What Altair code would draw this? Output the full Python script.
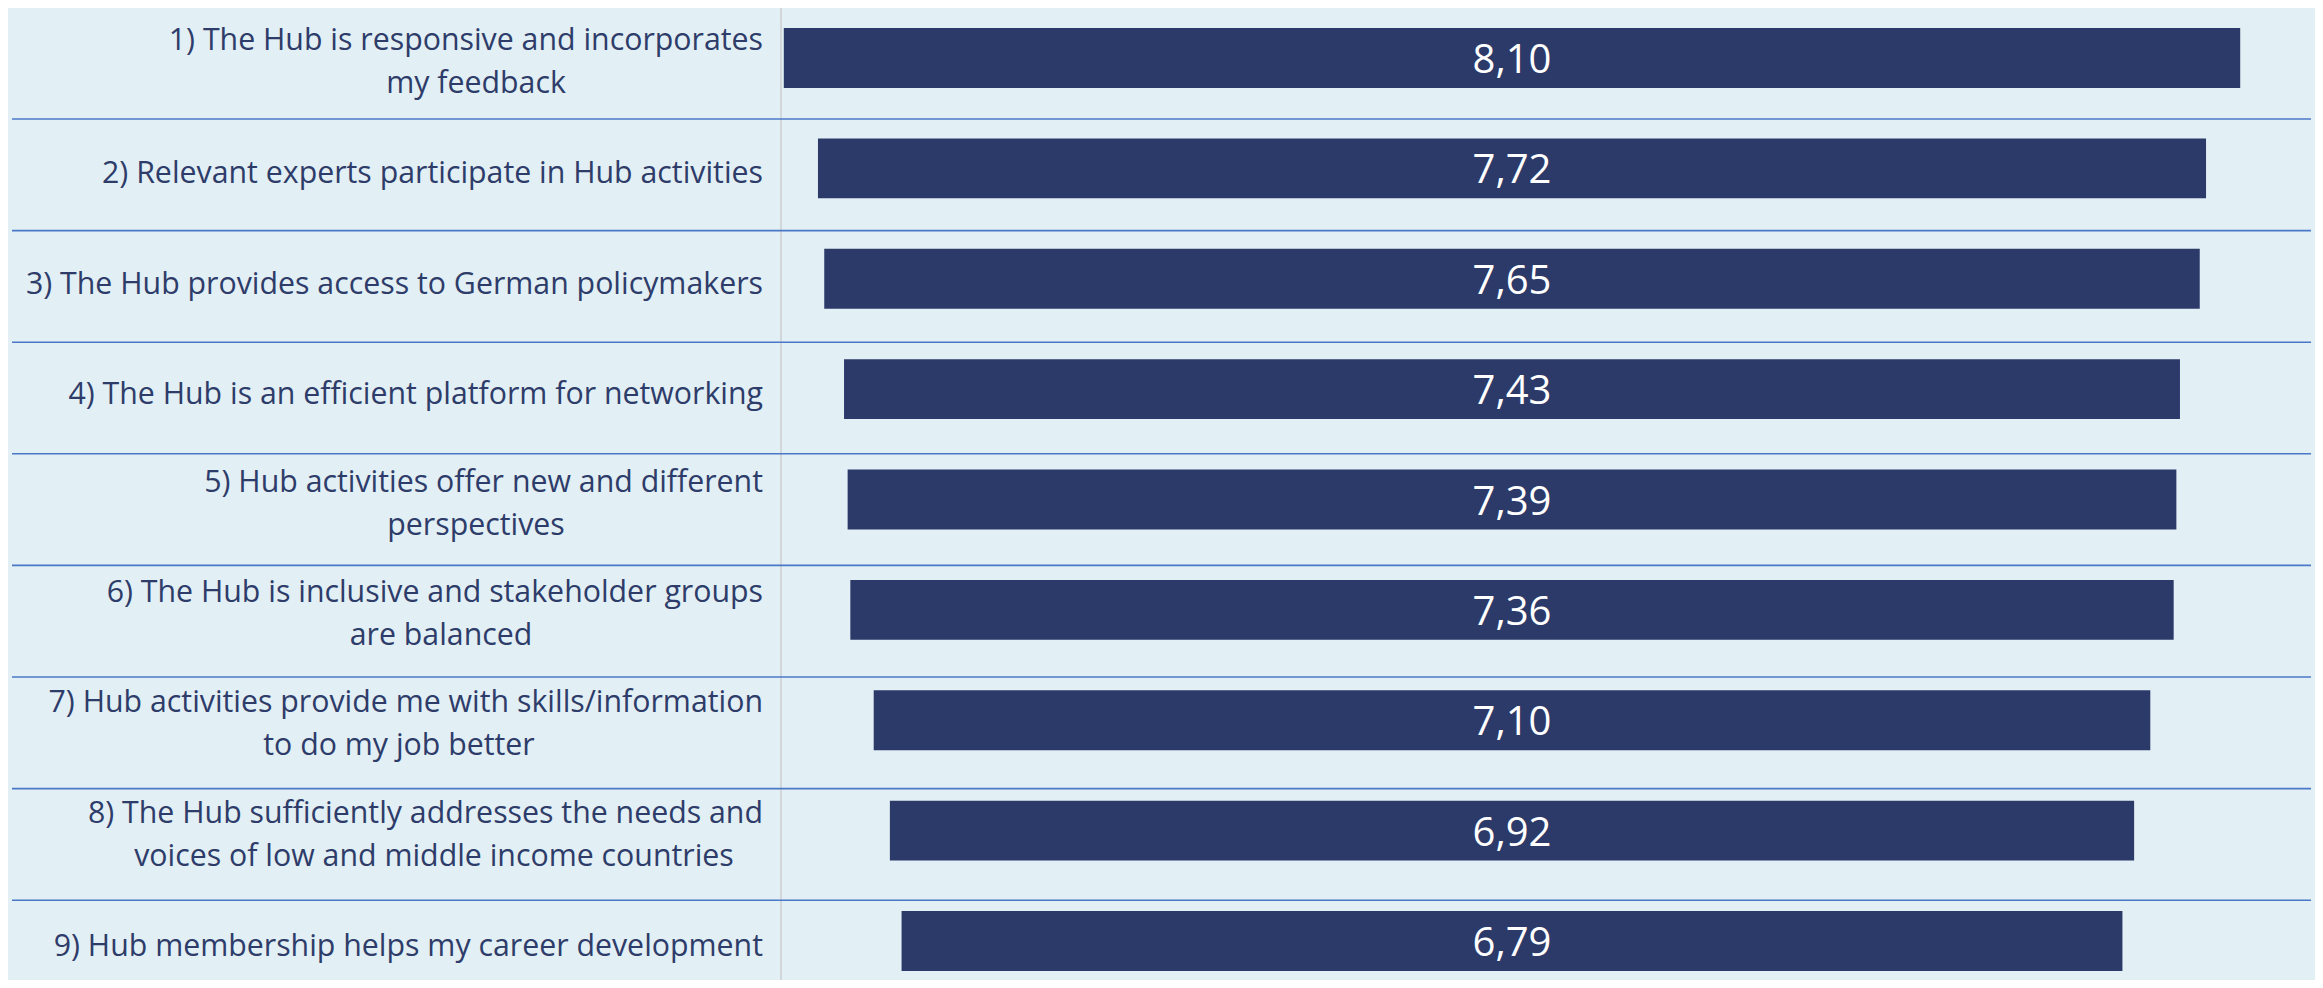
import altair as alt
import pandas as pd

# ---- data ----
label_line1 = [
    "1) The Hub is responsive and incorporates",
    "2) Relevant experts participate in Hub activities",
    "3) The Hub provides access to German policymakers",
    "4) The Hub is an efficient platform for networking",
    "5) Hub activities offer new and different",
    "6) The Hub is inclusive and stakeholder groups",
    "7) Hub activities provide me with skills/information",
    "8) The Hub sufficiently addresses the needs and",
    "9) Hub membership helps my career development",
]
label_line2 = [
    "my feedback",
    "",
    "",
    "",
    "perspectives",
    "are balanced",
    "to do my job better",
    "voices of low and middle income countries",
    "",
]
scores = [8.10, 7.72, 7.65, 7.43, 7.39, 7.36, 7.10, 6.92, 6.79]

# ---- style ----
NAVY = "#2C3A6A"
LABEL = "#2E3C6A"
BG = "#E2EFF4"
SEP = "#4A78C8"
GRAY = "#D2D7DA"
FONT = "Open Sans"
FS = 30.3
CW = 14.0  # approx. average character width for centering second lines
LX = -19   # right edge of the category labels, relative to the plot's left edge

W, H = 1460, 943
XD = 4.06

df = pd.DataFrame({"cat": label_line1, "line2": label_line2, "value": scores})

base = alt.Chart(df).transform_window(idx="row_number()")

xscale = alt.Scale(domain=[-XD, XD], nice=False, zero=False)
ydef = alt.Y(
    "cat:N",
    sort=label_line1,
    axis=None,
    scale=alt.Scale(type="band", domain=label_line1, paddingInner=0.4565, paddingOuter=0),
)

bars = (
    base.transform_calculate(lo="-datum.value/2", hi="datum.value/2")
    .mark_bar(color=NAVY, cornerRadius=0)
    .encode(x=alt.X("lo:Q", scale=xscale, axis=None), x2="hi:Q", y=ydef)
)

vals = (
    base.transform_calculate(
        mid="0*datum.value",
        txt="replace(format(datum.value, '.2f'), '.', ',')",
    )
    .mark_text(color="white", font=FONT, fontSize=40, align="center", baseline="middle", dy=3)
    .encode(x=alt.X("mid:Q", scale=xscale, axis=None), y=ydef, text="txt:N")
)

seps = (
    base.transform_filter("datum.idx < 9")
    .mark_rule(color=SEP, strokeWidth=1.6)
    .encode(
        y=alt.Y(
            "idx:Q",
            scale=alt.Scale(domain=[0.1846, 8.6345], reverse=True, nice=False, zero=False),
            axis=None,
        ),
        x=alt.value(-770),
        x2=alt.value(W + 69),
    )
)

vline = (
    base.transform_filter("datum.idx == 1")
    .mark_rule(color=GRAY, strokeWidth=2)
    .encode(x=alt.value(-1), y=alt.value(-25), y2=alt.value(H + 9))
)

lab_single = (
    base.transform_filter("datum.line2 == ''")
    .mark_text(align="right", baseline="middle", dy=6, font=FONT, fontSize=FS, color=LABEL)
    .encode(x=alt.value(LX), y=ydef, text="cat:N")
)

lab_two_a = (
    base.transform_filter("datum.line2 != ''")
    .mark_text(align="right", baseline="middle", dy=-17, font=FONT, fontSize=FS, color=LABEL)
    .encode(x=alt.value(LX), y=ydef, text="cat:N")
)

lab_two_b = (
    base.transform_filter("datum.line2 != ''")
    .transform_calculate(lx=f"{LX} - length(datum.cat) * {CW} / 2")
    .mark_text(align="center", baseline="middle", dy=26, font=FONT, fontSize=FS, color=LABEL)
    .encode(x=alt.X("lx:Q", scale=None, axis=None), y=ydef, text="line2:N")
)

chart = (
    alt.layer(vline, seps, bars, vals, lab_single, lab_two_a, lab_two_b)
    .resolve_scale(x="independent", y="independent")
    .properties(
        width=W,
        height=H,
        autosize=alt.AutoSizeParams(type="none"),
        padding={"left": 774, "top": 20, "right": 73, "bottom": 9},
        background=BG,
    )
    .configure_view(stroke=None)
)

chart.save("out.html", embed_options={"renderer": "svg", "actions": False})
